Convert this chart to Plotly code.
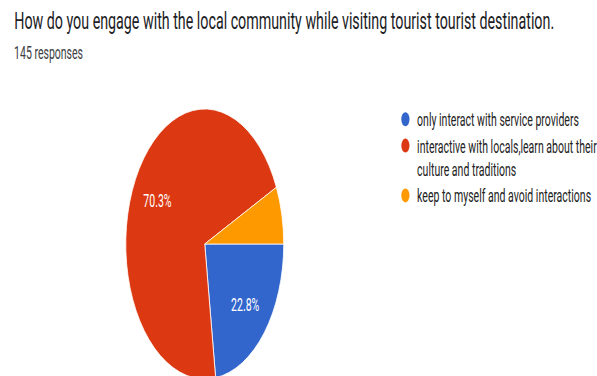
import math
import plotly.graph_objects as go

# Survey answers and their share of the 145 responses (percent)
categories = [
    "only interact with service providers",
    "interactive with locals,learn about their<br>culture and traditions",
    "keep to myself and avoid interactions",
]
shares = [22.8, 70.3, 6.9]
colors = ["#3366cc", "#dc3912", "#ff9900"]

title_text = "How do you engage with the local community while visiting tourist tourist destination."
subtitle_text = "145 responses"

# The chart is laid out on a wide canvas and compressed horizontally in the page
SQUEEZE = 0.585
W, H = 1100, 400

# pie geometry on the wide canvas (pixels)
cx, cy, r = 350, 244, 135
START_DEG = 90          # first slice starts at 3 o'clock, going clockwise
LABEL_RADIUS = 0.68     # percentage labels sit at this fraction of the radius

fig = go.Figure()
fig.add_trace(go.Pie(
    values=shares,
    labels=[c.replace("<br>", " ") for c in categories],
    marker=dict(colors=colors, line=dict(color="white", width=1)),
    sort=False,
    direction="clockwise",
    rotation=START_DEG,
    textinfo="none",
    hoverinfo="label+percent",
    showlegend=False,
    domain=dict(
        x=[(cx - r) / W, (cx + r) / W],
        y=[1 - (cy + r) / H, 1 - (cy - r) / H],
    ),
))

# percentage labels on the slice bisectors (small slices stay unlabeled)
total = sum(shares)
acc = 0.0
for v in shares:
    mid = START_DEG + 360.0 * (acc + v / 2) / total
    acc += v
    if v < 10:
        continue
    a = math.radians(mid)
    px = cx + LABEL_RADIUS * r * math.sin(a)
    py = cy - LABEL_RADIUS * r * math.cos(a)
    fig.add_annotation(
        text=f"{v:.1f}%", xref="paper", yref="paper",
        x=px / W, y=1 - py / H, xanchor="center", yanchor="middle",
        showarrow=False, font=dict(family="Roboto", size=18, color="white"),
    )

# round legend markers, one entry per answer
for name, col in zip(categories, colors):
    fig.add_trace(go.Scatter(
        x=[None], y=[None], mode="markers",
        marker=dict(color=col, size=14),
        name=name, legendgroup=name, hoverinfo="skip",
    ))

fig.add_annotation(
    text=title_text, xref="paper", yref="paper",
    x=22 / W, y=1 - 20 / H, xanchor="left", yanchor="middle",
    showarrow=False, font=dict(family="Roboto", size=24.4, color="#202124"),
)
fig.add_annotation(
    text=subtitle_text, xref="paper", yref="paper",
    x=22 / W, y=1 - 52 / H, xanchor="left", yanchor="middle",
    showarrow=False, font=dict(family="Roboto", size=18, color="#3c4043"),
)

fig.update_layout(
    width=W, height=H, autosize=False,
    margin=dict(l=0, r=0, t=0, b=0),
    paper_bgcolor="white", plot_bgcolor="white",
    xaxis=dict(visible=False), yaxis=dict(visible=False),
    legend=dict(
        x=673 / W, y=1 - 101 / H, xanchor="left", yanchor="top",
        font=dict(family="Roboto", size=18, color="#222222"),
        valign="top", tracegroupgap=0, bgcolor="rgba(0,0,0,0)",
    ),
)

squeeze_js = """
var gd = document.getElementById('{plot_id}');
document.documentElement.style.overflow = 'hidden';
document.body.style.margin = '0';
document.body.style.overflow = 'hidden';
gd.style.transformOrigin = '0 0';
gd.style.transform = 'scaleX(%s)';
""" % SQUEEZE

fig.write_html("out.html", post_script=squeeze_js)
